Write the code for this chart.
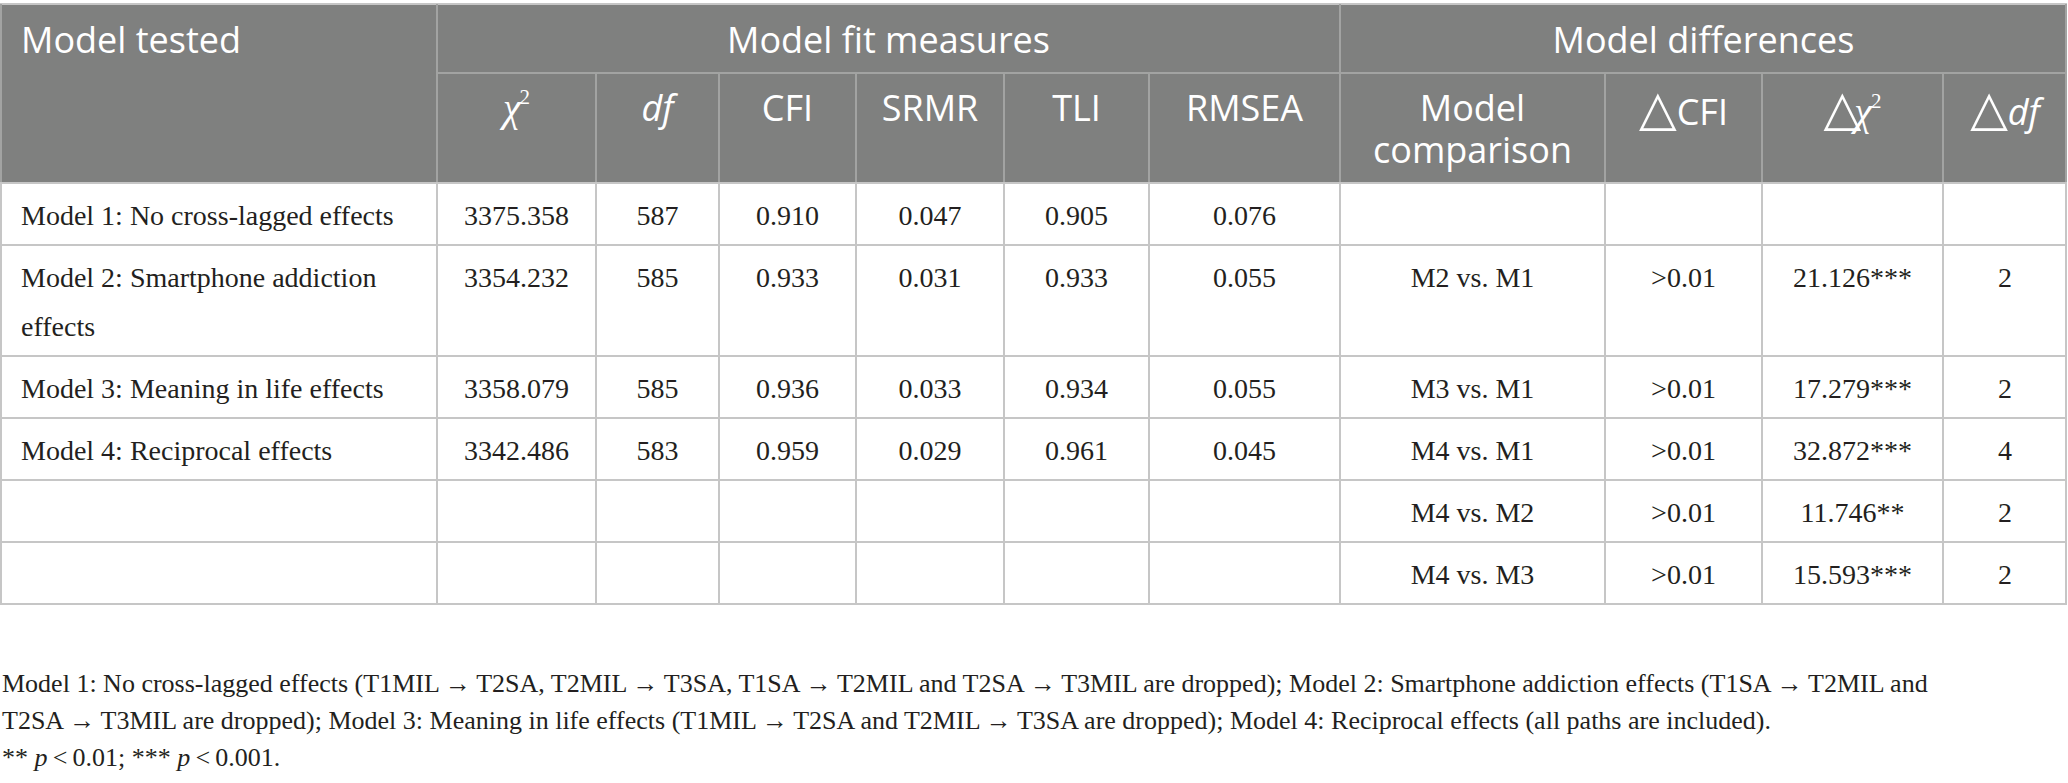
<!DOCTYPE html>
<html>
<head>
<meta charset="utf-8">
<script src="https://cdn.jsdelivr.net/npm/d3@7"></script>
<style>
  body { margin: 0; background: #fff; }
</style>
</head>
<body>
<div id="chart"></div>
<script>
// table content
const groupHeaders = ["Model tested", "Model fit measures", "Model differences"];
const fitColumns = ["χ²", "df", "CFI", "SRMR", "TLI", "RMSEA"];
const diffColumns = ["Model comparison", "△CFI", "△χ²", "△df"];

const models = [
  "Model 1: No cross-lagged effects",
  "Model 2: Smartphone addiction effects",
  "Model 3: Meaning in life effects",
  "Model 4: Reciprocal effects",
  "",
  "",
];
const chiSquare = [3375.358, 3354.232, 3358.079, 3342.486, null, null];
const dfValues = [587, 585, 585, 583, null, null];
const cfi = [0.91, 0.933, 0.936, 0.959, null, null];
const srmr = [0.047, 0.031, 0.033, 0.029, null, null];
const tli = [0.905, 0.933, 0.934, 0.961, null, null];
const rmsea = [0.076, 0.055, 0.055, 0.045, null, null];

const comparisons = ["", "M2 vs. M1", "M3 vs. M1", "M4 vs. M1", "M4 vs. M2", "M4 vs. M3"];
const deltaCfi = ["", ">0.01", ">0.01", ">0.01", ">0.01", ">0.01"];
const deltaChiSquare = [null, 21.126, 17.279, 32.872, 11.746, 15.593];
const deltaSig = ["", "***", "***", "***", "**", "***"];
const deltaDf = [null, 2, 2, 4, 2, 2];

const notes = [
  "Model 1: No cross-lagged effects (T1MIL\u2009→\u2009T2SA, T2MIL\u2009→\u2009T3SA, T1SA\u2009→\u2009T2MIL and T2SA\u2009→\u2009T3MIL are dropped); Model 2: Smartphone addiction effects (T1SA\u2009→\u2009T2MIL and",
  "T2SA\u2009→\u2009T3MIL are dropped); Model 3: Meaning in life effects (T1MIL\u2009→\u2009T2SA and T2MIL\u2009→\u2009T3SA are dropped); Model 4: Reciprocal effects (all paths are included).",
  "** p\u2009<\u20090.01; *** p\u2009<\u20090.001.",
];

// layout
const size = { width: 2068, height: 783 };
const colWidths = [437, 159, 123, 137, 148, 145, 191, 265, 157, 181, 124];
const colEdges = [0, ...d3.cumsum(colWidths)];
const tableTop = 4;
const head1H = 68.5;
const head2H = 110;
const lineH = 49;

const headFont = "'Open Sans', 'Noto Sans', sans-serif";
const bodyFont = "'Liberation Serif', 'DejaVu Serif', serif";
const headBg = "#7f807f";
const headLine = "#a2a3a2";
const bodyLine = "#c6c6c6";
const ink = "#231f20";

const f3 = (v) => (v == null ? "" : d3.format(".3f")(v));
const fInt = (v) => (v == null ? "" : String(v));

const rows = models.map((m, i) => [
  m,
  f3(chiSquare[i]),
  fInt(dfValues[i]),
  f3(cfi[i]),
  f3(srmr[i]),
  f3(tli[i]),
  f3(rmsea[i]),
  comparisons[i],
  deltaCfi[i],
  deltaChiSquare[i] == null ? "" : f3(deltaChiSquare[i]) + deltaSig[i],
  fInt(deltaDf[i]),
]);

const svg = d3
  .select("#chart")
  .append("svg")
  .attr("width", size.width)
  .attr("height", size.height)
  .style("display", "block");

// splits words into lines that fit maxW, returns line strings
const wrapWords = (str, maxW, font, fontSize) => {
  const probe = svg
    .append("text")
    .style("font-family", font)
    .style("font-size", fontSize + "px");
  const words = str.split(" ");
  const lines = [];
  let cur = "";
  words.forEach((w) => {
    const test = cur ? cur + " " + w : w;
    probe.text(test);
    if (cur && probe.node().getComputedTextLength() > maxW) {
      lines.push(cur);
      cur = w;
    } else {
      cur = test;
    }
  });
  if (cur) lines.push(cur);
  probe.remove();
  return lines;
};

// header labels: △ drawn large, χ in serif italic, df italic, ² raised small
const addHeadLabel = (text, str) => {
  let prev = null;
  str.split(/(△|χ|²|df)/).filter((s) => s !== "").forEach((part) => {
    if (part === "△") {
      text
        .append("tspan")
        .attr("dy", 4)
        .style("font-family", "'DejaVu Sans', sans-serif")
        .style("font-size", "49px")
        .text(part);
      text.append("tspan").attr("dy", -4).text("");
    } else if (part === "χ") {
      text
        .append("tspan")
        .attr("dx", prev === "△" ? -7 : 0)
        .style("font-family", "'Liberation Serif', serif")
        .style("font-style", "italic")
        .style("font-size", "40px")
        .text(part);
    } else if (part === "²") {
      text
        .append("tspan")
        .attr("dy", -17)
        .attr("dx", -1)
        .style("font-family", "'Liberation Serif', serif")
        .style("font-size", "21px")
        .text("2");
      text.append("tspan").attr("dy", 17).text("");
    } else if (part === "df") {
      text.append("tspan").style("font-style", "italic").text(part);
    } else {
      text.append("tspan").text(part);
    }
    prev = part;
  });
};

// body row heights from wrapped first column
const bodyFontSize = 28;
const rowLines = rows.map((r) =>
  r[0] ? wrapWords(r[0], colWidths[0] - 40, bodyFont, bodyFontSize) : [""]
);
const rowHeights = rowLines.map((l) => 13 + l.length * lineH);
const bodyTop = tableTop + head1H + head2H;
const rowEdges = [bodyTop, ...d3.cumsum(rowHeights).map((h) => bodyTop + h)];
const tableBottom = rowEdges[rowEdges.length - 1];
const right = colEdges[colEdges.length - 1];

// header background
svg
  .append("rect")
  .attr("x", 0)
  .attr("y", tableTop)
  .attr("width", right)
  .attr("height", head1H + head2H)
  .attr("fill", headBg);

const grid = svg.append("g").attr("stroke-width", 2).attr("shape-rendering", "crispEdges");

const hLine = (x1, x2, y, c) =>
  grid.append("line").attr("x1", x1).attr("x2", x2).attr("y1", y).attr("y2", y).attr("stroke", c);
const vLine = (x, y1, y2, c) =>
  grid.append("line").attr("x1", x).attr("x2", x).attr("y1", y1).attr("y2", y2).attr("stroke", c);

// header grid
hLine(0, right, tableTop, bodyLine);
hLine(colEdges[1], right, tableTop + head1H, headLine);
[1, 7].forEach((c) => vLine(colEdges[c], tableTop, bodyTop, headLine));
d3.range(2, 11)
  .filter((c) => c !== 7)
  .forEach((c) => vLine(colEdges[c], tableTop + head1H, bodyTop, headLine));
vLine(1, tableTop, bodyTop, headLine);
vLine(right - 1, tableTop, bodyTop, headLine);

// body grid
rowEdges.forEach((y) => hLine(0, right, y, bodyLine));
colEdges.forEach((x, i) => {
  const xx = i === 0 ? 1 : i === colEdges.length - 1 ? x - 1 : x;
  vLine(xx, bodyTop, tableBottom, bodyLine);
});

// group header row
const headFontSize = 36;
const head = svg
  .append("g")
  .style("font-family", headFont)
  .style("font-size", headFontSize + "px")
  .attr("fill", "#fff");

const groupSpans = [
  [0, 1],
  [1, 7],
  [7, 11],
];
groupHeaders.forEach((g, i) => {
  const [a, b] = groupSpans[i];
  head
    .append("text")
    .attr("x", i === 0 ? colEdges[a] + 21 : (colEdges[a] + colEdges[b]) / 2)
    .attr("y", tableTop + 49)
    .attr("text-anchor", i === 0 ? "start" : "middle")
    .text(g);
});

// column header row
[...fitColumns, ...diffColumns].forEach((label, i) => {
  const c = i + 1;
  const cx = (colEdges[c] + colEdges[c + 1]) / 2;
  const lines = wrapWords(label, colWidths[c] - 20, headFont, headFontSize);
  lines.forEach((ln, j) => {
    const t = head
      .append("text")
      .attr("x", cx)
      .attr("y", tableTop + head1H + 48 + j * 42)
      .attr("text-anchor", "middle");
    addHeadLabel(t, ln);
  });
});

// body cells
const body = svg
  .append("g")
  .style("font-family", bodyFont)
  .style("font-size", bodyFontSize + "px")
  .attr("fill", ink);

rows.forEach((r, ri) => {
  const y0 = rowEdges[ri] + 42;
  r.forEach((val, c) => {
    if (!val) return;
    if (c === 0) {
      rowLines[ri].forEach((ln, j) => {
        body
          .append("text")
          .attr("x", colEdges[0] + 21)
          .attr("y", y0 + j * lineH)
          .text(ln);
      });
    } else {
      body
        .append("text")
        .attr("x", (colEdges[c] + colEdges[c + 1]) / 2)
        .attr("y", y0)
        .attr("text-anchor", "middle")
        .text(val);
    }
  });
});

// footnotes
const foot = svg
  .append("g")
  .style("font-family", bodyFont)
  .style("font-size", "26px")
  .attr("fill", ink);

notes.forEach((n, i) => {
  const t = foot
    .append("text")
    .attr("x", 2)
    .attr("y", 692 + i * 37);
  n.split(/(\bp\b)/).forEach((part) => {
    const s = t.append("tspan").text(part);
    if (part === "p") s.style("font-style", "italic");
  });
});
</script>
</body>
</html>
